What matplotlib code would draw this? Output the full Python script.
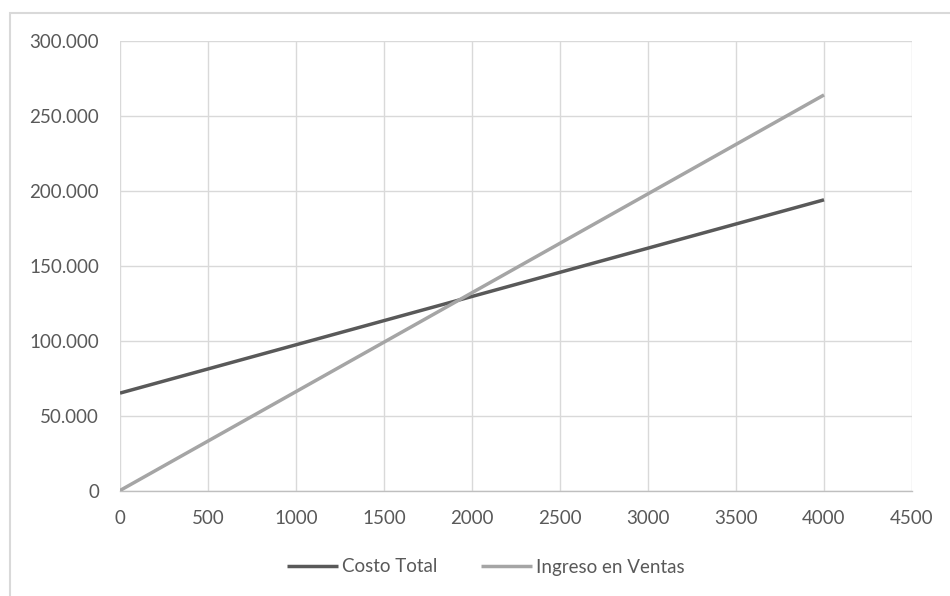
import matplotlib
matplotlib.use("Agg")
import matplotlib.pyplot as plt
from matplotlib.ticker import FuncFormatter, MultipleLocator
from matplotlib.patches import Rectangle

# Units produced (x) and amounts in currency (y)
unidades = [0, 4000]
costo_total = [65000, 194000]
ingreso_ventas = [0, 264000]

series_names = ["Costo Total", "Ingreso en Ventas"]
series_colors = ["#595959", "#a5a5a5"]

plt.rcParams["font.family"] = ["Lato", "DejaVu Sans"]

fig = plt.figure(figsize=(9.5, 5.96), dpi=100)

# Chart area frame (runs off the right and bottom edges)
fig.patches.append(Rectangle((10 / 950, -0.1), 1.0, (596 - 13) / 596 + 0.1,
                             transform=fig.transFigure, fill=False,
                             edgecolor="#d9d9d9", linewidth=1.5, zorder=0))

ax = fig.add_axes([120 / 950, (596 - 490.5) / 596, (912 - 120) / 950, (490.5 - 41) / 596])

ax.plot(unidades, costo_total, color=series_colors[0], linewidth=2.5,
        label=series_names[0], solid_capstyle="butt", zorder=3)
ax.plot(unidades, ingreso_ventas, color=series_colors[1], linewidth=2.5,
        label=series_names[1], solid_capstyle="butt", zorder=3)

ax.set_xlim(0, 4500)
ax.set_ylim(0, 300000)
ax.xaxis.set_major_locator(MultipleLocator(500))
ax.yaxis.set_major_locator(MultipleLocator(50000))
ax.yaxis.set_major_formatter(FuncFormatter(lambda v, p: f"{int(v):,}".replace(",", ".")))

ax.grid(True, color="#d9d9d9", linewidth=1.0)
ax.set_axisbelow(True)
for side in ["top", "right", "left"]:
    ax.spines[side].set_visible(False)
ax.spines["bottom"].set_color("#bfbfbf")
ax.spines["bottom"].set_linewidth(1.0)

ax.tick_params(axis="both", length=0, labelsize=13.5, labelcolor="#595959")
ax.tick_params(axis="y", pad=15)
ax.tick_params(axis="x", pad=14)

leg = fig.legend(loc="center", bbox_to_anchor=(486 / 950, (596 - 567) / 596), ncol=2,
                 frameon=False, fontsize=13.5, handlelength=2.7, handletextpad=0.25,
                 columnspacing=2.3)
for t in leg.get_texts():
    t.set_color("#595959")

fig.savefig("out.png", dpi=100)
